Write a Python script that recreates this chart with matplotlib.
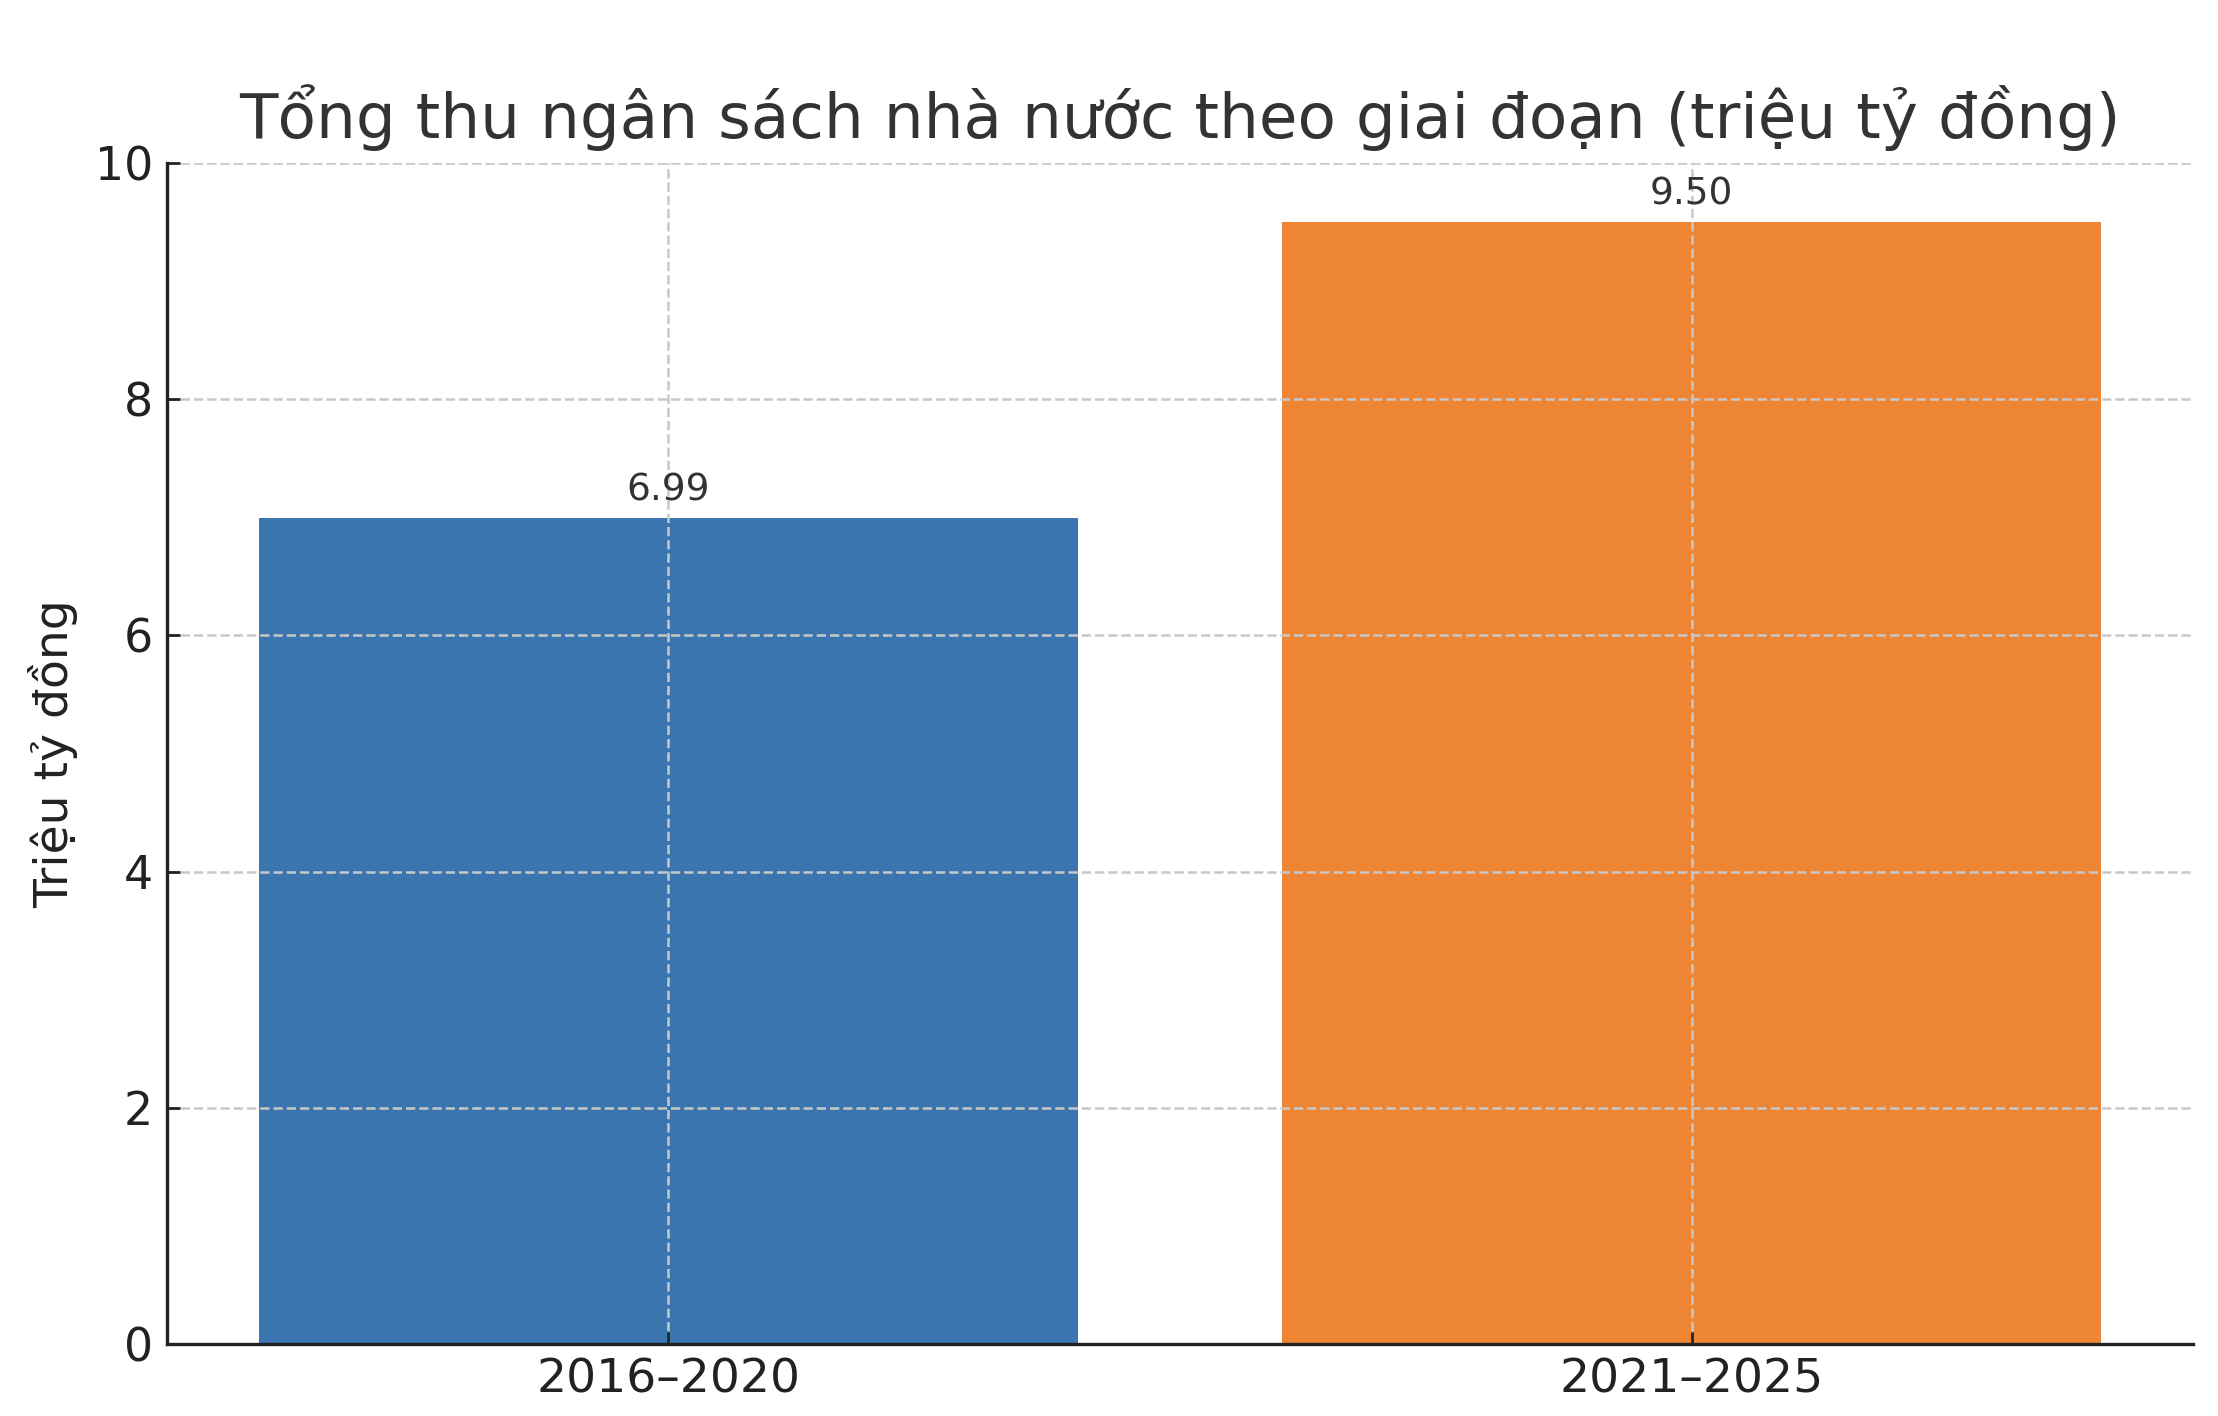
import numpy as np
import matplotlib
matplotlib.use("Agg")
import matplotlib.pyplot as plt

periods = ["2016–2020", "2021–2025"]
revenue = [6.99, 9.50]
bar_colors = ["#3b75af", "#ee8535"]
yticks = [0, 2, 4, 6, 8, 10]

plt.rcParams["font.family"] = ["DejaVu Sans"]

fig = plt.figure(figsize=(11.09, 7.08), dpi=200)
ax = fig.add_axes([0.0753, 0.0508, 0.9134, 0.8341])

x = np.arange(len(periods))
bars = ax.bar(x, revenue, width=0.8, color=bar_colors)

for b, v in zip(bars, revenue):
    ax.annotate(f"{v:.2f}", (b.get_x() + b.get_width() / 2, v),
                xytext=(0, 3.5), textcoords="offset points",
                ha="center", va="bottom", fontsize=13.5, color="#333333")

ax.set_xticks(x)
ax.set_xticklabels(periods, fontsize=17)
ax.set_ylim(0, 10)
ax.set_yticks(yticks)
ax.tick_params(direction="in", length=4.5, width=1.0, labelsize=16.5,
               colors="#222222", pad=5)
ax.tick_params(axis="x", labelsize=17)

ax.grid(True, linestyle="--", color="#c8c8c8", linewidth=0.9)
for s in ["top", "right"]:
    ax.spines[s].set_visible(False)
for s in ["left", "bottom"]:
    ax.spines[s].set_linewidth(1.2)
    ax.spines[s].set_color("#222222")

ax.set_ylabel("Triệu tỷ đồng", fontsize=17, color="#222222", labelpad=6)
ax.set_title("Tổng thu ngân sách nhà nước theo giai đoạn (triệu tỷ đồng)",
             fontsize=22.6, color="#333333", pad=9)

fig.savefig("out.png", dpi=200)
